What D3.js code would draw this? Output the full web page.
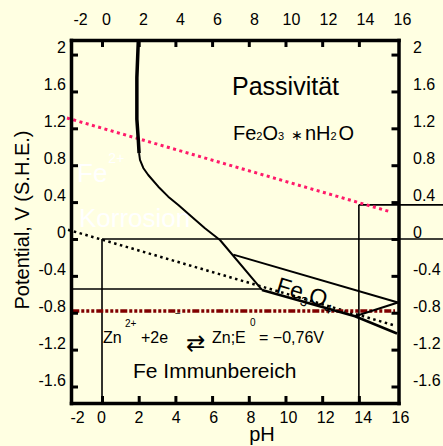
<!DOCTYPE html>
<html>
<head>
<meta charset="utf-8">
<script src="https://cdn.jsdelivr.net/npm/d3@7"></script>
<style>
body { margin: 0; background: #ffffe2; }
svg { display: block; font-family: "Liberation Sans", Arial, sans-serif; }
</style>
</head>
<body>
<div id="chart"></div>
<script>
//Width and height
var w = 443;
var h = 446;

// tick values
var pHTicks = [0, 2, 4, 6, 8, 10, 12, 14];
var pHLabels = [-2, 0, 2, 4, 6, 8, 10, 12, 14, 16];
var eTicks = [2, 1.6, 1.2, 0.8, 0.4, 0, -0.4, -0.8, -1.2, -1.6];

// boundary lines, points are [pH, E]
var feCurveTop = [[1.98, 2.158], [1.90, 1.75], [1.90, 1.30], [1.98, 1.07], [2.02, 0.93]];
var feCurve = [[2.02, 0.93], [2.07, 0.857], [2.25, 0.77], [2.52, 0.694], [3.07, 0.567],
               [3.61, 0.459], [4.16, 0.369], [4.89, 0.242], [5.61, 0.116], [6.43, -0.011],
               [8.72, -0.553]];
var fe3o4Top = [[7.16, -0.17], [16.13, -0.689]];
var fe3o4Bot = [[8.72, -0.553], [13.79, -0.838], [16.08, -1.025]];
var hfeo2Line = [[13.79, -0.838], [16.13, -0.689]];
var o2Line = [[-1.91, 1.312], [15.75, 0.293]];
var h2Line = [[-1.85, 0.10], [15.86, -0.933]];
var znLine = [[-1.62, -0.781], [15.97, -0.781]];
var thinLines = [
  [[0, 0], [18.6, 0]],
  [[0, 0], [0, -1.779]],
  [[14, 0.37], [14, -1.779]],
  [[14, 0.37], [18.6, 0.37]],
  [[-1.69, -0.542], [8.72, -0.542]]
];

// scales for the plot, and for the (slightly shifted) tick labels
var x = d3.scaleLinear().domain([-1.69, 16.16]).range([71, 398.5]);
var y = d3.scaleLinear().domain([2.158, -1.779]).range([40, 403]);
var xlTop = d3.scaleLinear().domain([-2, 0, 16]).range([80, 106, 402]);
var xlBot = d3.scaleLinear().domain([-2, 0, 16]).range([77, 101, 400]);
var yl = d3.scaleLinear().domain([2, -1.6]).range([47, 380]);

var line = d3.line()
  .x(function(d) { return x(d[0]); })
  .y(function(d) { return y(d[1]); });

var svg = d3.select("#chart")
  .append("svg")
  .attr("width", w)
  .attr("height", h);

svg.append("rect")
  .attr("width", w)
  .attr("height", h)
  .attr("fill", "#ffffe2");

// white region labels (under the lines)
var fe2 = svg.append("text")
  .attr("x", 77).attr("y", 182)
  .attr("font-size", "26px")
  .attr("fill", "#ffffff");
fe2.append("tspan").text("Fe");
fe2.append("tspan").attr("font-size", "14px").attr("dx", 1).attr("dy", -19).text("2+");

svg.append("text")
  .attr("x", 79).attr("y", 227)
  .attr("font-size", "26px")
  .attr("fill", "#ffffff")
  .text("Korrosion");

// thin lines
svg.selectAll(".thin")
  .data(thinLines)
  .enter()
  .append("path")
  .attr("class", "thin")
  .attr("d", line)
  .attr("fill", "none")
  .attr("stroke", "#000")
  .attr("stroke-width", 1.6);

// oxygen line
svg.append("path")
  .attr("d", line(o2Line))
  .attr("fill", "none")
  .attr("stroke", "#ff1a6a")
  .attr("stroke-width", 3)
  .attr("stroke-dasharray", "3,3.5");

// hydrogen line
svg.append("path")
  .attr("d", line(h2Line))
  .attr("fill", "none")
  .attr("stroke", "#000")
  .attr("stroke-width", 2.5)
  .attr("stroke-dasharray", "2.5,3.5");

// Zn line
svg.append("path")
  .attr("d", line(znLine))
  .attr("fill", "none")
  .attr("stroke", "#800000")
  .attr("stroke-width", 3.5)
  .attr("stroke-dasharray", "7,2,3,2,3,2,3,2");

// Fe boundaries
svg.append("path")
  .attr("d", line(feCurveTop))
  .attr("fill", "none")
  .attr("stroke", "#000")
  .attr("stroke-width", 3.5);

svg.append("path")
  .attr("d", line(feCurve))
  .attr("fill", "none")
  .attr("stroke", "#000")
  .attr("stroke-width", 2)
  .attr("stroke-linejoin", "round");

svg.append("path")
  .attr("d", line(fe3o4Top))
  .attr("fill", "none")
  .attr("stroke", "#000")
  .attr("stroke-width", 2);

svg.append("path")
  .attr("d", line(fe3o4Bot))
  .attr("fill", "none")
  .attr("stroke", "#000")
  .attr("stroke-width", 2.6);

svg.append("path")
  .attr("d", line(hfeo2Line))
  .attr("fill", "none")
  .attr("stroke", "#000")
  .attr("stroke-width", 2);

// frame with inward ticks
function frame(g) {
  g.selectAll(".domain").attr("stroke-width", 3.5).attr("stroke-linecap", "square");
  g.selectAll(".tick line").attr("stroke-width", 3);
}
svg.append("g").attr("transform", "translate(0,40)")
  .call(d3.axisTop(x).tickValues(pHTicks).tickSize(-7).tickSizeOuter(0).tickFormat(""))
  .call(frame);
svg.append("g").attr("transform", "translate(0,403)")
  .call(d3.axisBottom(x).tickValues(pHTicks).tickSize(-7).tickSizeOuter(0).tickFormat(""))
  .call(frame);
svg.append("g").attr("transform", "translate(71,0)")
  .call(d3.axisLeft(y).tickValues(eTicks).tickSize(-7).tickSizeOuter(0).tickFormat(""))
  .call(frame);
svg.append("g").attr("transform", "translate(398.5,0)")
  .call(d3.axisRight(y).tickValues(eTicks).tickSize(-7).tickSizeOuter(0).tickFormat(""))
  .call(frame);

// tick labels, plain hyphen minus and no trailing zeros
var fmt = function(d) { return String(d); };
function labels(g) {
  g.select(".domain").remove();
  g.selectAll(".tick line").remove();
  g.selectAll("text").attr("font-size", "16px").attr("font-family", null).attr("fill", "#000");
}
svg.append("g").attr("transform", "translate(0,25)")
  .call(d3.axisTop(xlTop).tickValues(pHLabels).tickSize(0).tickPadding(0).tickFormat(fmt))
  .call(labels);
svg.append("g").attr("transform", "translate(0,412)")
  .call(d3.axisBottom(xlBot).tickValues(pHLabels).tickSize(0).tickPadding(0).tickFormat(fmt))
  .call(labels);
svg.append("g").attr("transform", "translate(66,0)")
  .call(d3.axisLeft(yl).tickValues(eTicks).tickSize(0).tickPadding(0).tickFormat(fmt))
  .call(labels);
svg.append("g").attr("transform", "translate(413,0)")
  .call(d3.axisRight(yl).tickValues(eTicks).tickSize(0).tickPadding(0).tickFormat(fmt))
  .call(labels);

// axis titles
svg.append("text")
  .attr("transform", "translate(29,220) rotate(-90)")
  .attr("text-anchor", "middle")
  .attr("font-size", "20px")
  .text("Potential, V (S.H.E.)");

svg.append("text")
  .attr("x", 262).attr("y", 441)
  .attr("text-anchor", "middle")
  .attr("font-size", "20px")
  .text("pH");

// region labels
svg.append("text")
  .attr("x", 232).attr("y", 94.5)
  .attr("font-size", "25px")
  .text("Passivität");

var f2o3 = svg.append("text")
  .attr("x", 233).attr("y", 140)
  .attr("font-size", "20px");
f2o3.append("tspan").text("Fe");
f2o3.append("tspan").attr("font-size", "11px").text("2");
f2o3.append("tspan").text("O");
f2o3.append("tspan").attr("font-size", "11px").text("3");
f2o3.append("tspan").attr("dx", 7).attr("font-size", "14px").attr("font-family", "DejaVu Sans").text("\u2217");
f2o3.append("tspan").attr("dx", 2).text("nH");
f2o3.append("tspan").attr("font-size", "11px").text("2");
f2o3.append("tspan").attr("dx", 2).text("O");

var f3o4 = svg.append("text")
  .attr("transform", "translate(275,292) rotate(17)")
  .attr("font-size", "23px");
f3o4.append("tspan").text("Fe");
f3o4.append("tspan").attr("font-size", "13px").attr("dy", 5).text("3");
f3o4.append("tspan").attr("dy", -5).text("O");
f3o4.append("tspan").attr("font-size", "13px").attr("dy", 5).text("4");

// Zn reaction
var zn = svg.append("g").attr("font-size", "16px");
zn.append("text").attr("x", 103).attr("y", 343).text("Zn");
zn.append("text").attr("x", 125).attr("y", 327).attr("font-size", "10px").text("2+");
zn.append("text").attr("x", 141).attr("y", 343).text("+2e");
zn.append("text").attr("x", 175).attr("y", 317).attr("font-size", "10px").text("\u2212");
zn.append("text").attr("x", 186).attr("y", 351).attr("font-size", "23px").attr("font-family", "DejaVu Sans").text("\u21c4");
zn.append("text").attr("x", 212).attr("y", 343).text("Zn;E");
zn.append("text").attr("x", 250).attr("y", 326).attr("font-size", "10px").text("0");
zn.append("text").attr("x", 259).attr("y", 343).text("= \u22120,76V");

svg.append("text")
  .attr("x", 133).attr("y", 378)
  .attr("font-size", "21px")
  .text("Fe Immunbereich");
</script>
</body>
</html>
